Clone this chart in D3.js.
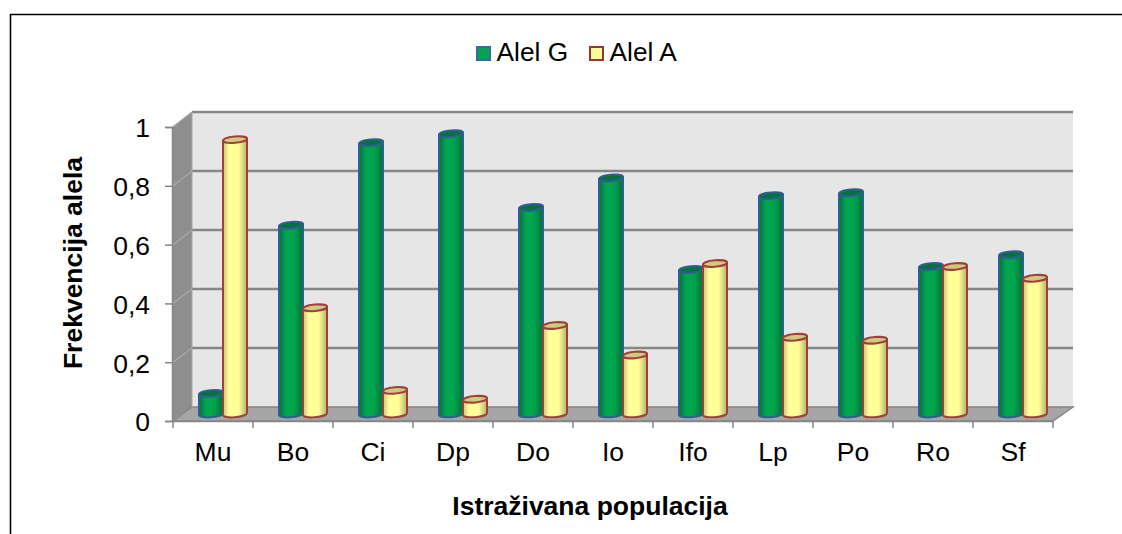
<!DOCTYPE html>
<html><head><meta charset="utf-8">
<script src="https://cdn.jsdelivr.net/npm/d3@7"></script>
<style>html,body{margin:0;padding:0;background:#fff}svg{display:block}text{font-family:"Liberation Sans",Arial,sans-serif;fill:#000}</style>
</head><body><svg id="c" width="1122" height="534"></svg>
<script>
const categories=["Mu","Bo","Ci","Dp","Do","Io","Ifo","Lp","Po","Ro","Sf"];
const alelG=[0.07,0.64,0.92,0.95,0.70,0.80,0.49,0.74,0.75,0.50,0.54];
const alelA=[0.93,0.36,0.08,0.05,0.30,0.20,0.51,0.26,0.25,0.50,0.46];
const yTicks=[0,0.2,0.4,0.6,0.8,1];
const svg=d3.select("#c");
const axisGray="#868686";
const x=d3.scaleBand().domain(categories).range([173,1053]);
const yFront=d3.scaleLinear().domain([0,1]).range([421,127]);
const yBack=d3.scaleLinear().domain([0,1]).range([407,112]);
const yBar=d3.scaleLinear().domain([0,1]).range([414,119]);
const depthX=19, barInset=26, barW=24;

svg.append("path").attr("d","M10.5,534V14.5H1122").attr("fill","none").attr("stroke","#000").attr("stroke-width",1.6);

const defs=svg.append("defs");
function grad(id,stops){
  const g=defs.append("linearGradient").attr("id",id).attr("x1",0).attr("x2",1).attr("y1",0).attr("y2",0);
  stops.forEach(s=>g.append("stop").attr("offset",s[0]).attr("stop-color",s[1]));
}
grad("gG",[[0,"#00733a"],[0.3,"#00a550"],[0.6,"#00a550"],[1,"#00733a"]]);
grad("gA",[[0,"#c9c56e"],[0.25,"#ffff99"],[0.65,"#ffff99"],[1,"#b5b16a"]]);

const x0=x.range()[0], x1=x.range()[1];
svg.append("rect").attr("x",x0+depthX).attr("y",yBack(1)).attr("width",x1-x0+1).attr("height",yBack(0)-yBack(1)).attr("fill","#e6e6e6");
svg.append("path").attr("d",`M${x0-1},${yFront(1)}L${x0+depthX},${yBack(1)}V${yBack(0)}L${x0-1},${yFront(0)}Z`).attr("fill","#8e8e8e");
svg.append("path").attr("d",`M${x0},${yFront(0)}L${x0+depthX},${yBack(0)}H${x1+depthX+1}L${x1},${yFront(0)}Z`).attr("fill","#a6a6a6").attr("stroke",axisGray).attr("stroke-width",1.5);
yTicks.forEach(t=>{
  if(t>0){
    svg.append("line").attr("x1",x0+depthX).attr("x2",x1+depthX+1).attr("y1",yBack(t)).attr("y2",yBack(t)).attr("stroke",axisGray).attr("stroke-width",2.5);
    svg.append("line").attr("x1",x0).attr("x2",x0+depthX).attr("y1",yFront(t)).attr("y2",yBack(t)).attr("stroke","#a6a6a6").attr("stroke-width",1.5);
  }
});
svg.append("line").attr("x1",x0+depthX).attr("x2",x0+depthX).attr("y1",yBack(1)).attr("y2",yBack(0)).attr("stroke","#a6a6a6").attr("stroke-width",1);

function bar(cat,v,off,fill,stroke,top){
  const l=x(cat)+off, rx=barW/2, ry=3.2, yt=yBar(v), yb=yBar(0);
  const tilt=1;
  const g=svg.append("g");
  g.append("path").attr("d",`M${l},${yt+tilt}V${yb+tilt}A${rx},${ry} -5 0 0 ${l+barW},${yb-tilt}V${yt-tilt}Z`)
    .attr("fill",`url(#${fill})`).attr("stroke",stroke).attr("stroke-width",2);
  g.append("ellipse").attr("cx",l+rx).attr("cy",yt).attr("rx",rx).attr("ry",ry)
    .attr("transform",`rotate(-5 ${l+rx} ${yt})`)
    .attr("fill",top).attr("stroke",stroke).attr("stroke-width",2);
}
categories.forEach((c,i)=>{
  bar(c,alelG[i],barInset,"gG","#2f5f8f","#00733f");
  bar(c,alelA[i],barInset+barW,"gA","#a0403c","#cfcb7a");
});

const gy=svg.append("g").attr("transform",`translate(${x0-1},0)`).call(d3.axisLeft(yFront).tickValues(yTicks).tickSize(7).tickPadding(15).tickFormat(d=>String(d).replace(".",",")));
gy.selectAll("path").attr("stroke",axisGray).attr("stroke-width",1.5);
gy.selectAll("line").attr("stroke",axisGray).attr("stroke-width",1.5);
gy.selectAll("text").attr("font-size",26.5).attr("dy","0.37em");
const gx=svg.append("g").attr("transform",`translate(0,${yFront(0)})`).call(d3.axisBottom(x).tickSize(0).tickPadding(21));
gx.select("path").attr("stroke",axisGray).attr("stroke-width",1.5);
gx.selectAll("text").attr("font-size",26.5);
[...categories.map(c=>x(c)),x1].forEach(px=>svg.append("line").attr("x1",px).attr("x2",px).attr("y1",yFront(0)).attr("y2",yFront(0)+7).attr("stroke",axisGray).attr("stroke-width",1.5));

svg.append("text").attr("transform","translate(82,263) rotate(-90)").attr("text-anchor","middle").attr("font-size",26.5).attr("font-weight","bold").text("Frekvencija alela");
svg.append("text").attr("x",590).attr("y",515).attr("text-anchor","middle").attr("font-size",26.5).attr("font-weight","bold").text("Istraživana populacija");

const legend=[["Alel G",477,"#00a550","#3b6aa0"],["Alel A",590,"#ffff99","#953735"]];
legend.forEach(d=>{
  svg.append("rect").attr("x",d[1]).attr("y",47).attr("width",13).attr("height",13).attr("fill",d[2]).attr("stroke",d[3]).attr("stroke-width",2);
  svg.append("text").attr("x",d[1]+19.5).attr("y",61).attr("font-size",26.3).text(d[0]);
});
</script></body></html>
